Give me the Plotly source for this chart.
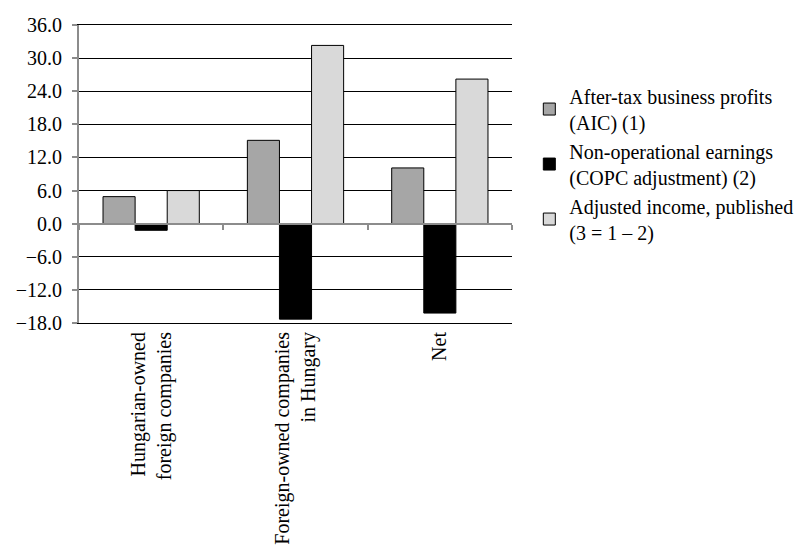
import plotly.graph_objects as go

categories = ["Hungarian-owned<br>foreign companies", "Foreign-owned companies<br>in Hungary", "Net"]
series_names = ["After-tax business profits<br>(AIC) (1)",
                "Non-operational earnings<br>(COPC adjustment) (2)",
                "Adjusted income, published<br>(3 = 1 \u2013 2)"]
after_tax = [4.9, 15.1, 10.1]
non_oper = [-1.2, -17.3, -16.2]
adjusted = [6.0, 32.3, 26.2]
colors = ["#A6A6A6", "#000000", "#D9D9D9"]
y_ticks = [-18, -12, -6, 0, 6, 12, 18, 24, 30, 36]

FONT = "Liberation Serif"
FS = 20

fig = go.Figure()
for i, (name, vals) in enumerate(zip(series_names, [after_tax, non_oper, adjusted])):
    fig.add_trace(go.Bar(
        x=categories, y=vals, name=name,
        marker=dict(color=colors[i], line=dict(color="#000000", width=1)),
        legendgroup=f"g{i}",
    ))

# secondary x axis used only to draw the grey zero line with boundary ticks
fig.add_trace(go.Scatter(x=[0.5, 3.5], y=[0, 0], xaxis="x2", mode="lines",
                         line=dict(color="rgba(0,0,0,0)"), showlegend=False, hoverinfo="skip"))

fig.update_layout(
    width=811, height=560,
    margin=dict(l=71, r=307, t=17, b=245, autoexpand=False),
    paper_bgcolor="white", plot_bgcolor="white",
    font=dict(family=FONT, size=FS, color="black"),
    barmode="group", bargap=0.333, bargroupgap=0,
    showlegend=True,
    legend=dict(x=1.04, y=0.827, xanchor="left", yanchor="top",
                font=dict(family=FONT, size=FS), tracegroupgap=0,
                itemwidth=30, bgcolor="rgba(0,0,0,0)"),
    xaxis=dict(showgrid=False, showline=True, linecolor="black", linewidth=1, mirror=True,
               ticks="", tickangle=-90, tickfont=dict(family=FONT, size=FS), zeroline=False,
               automargin=False),
    xaxis2=dict(overlaying="x", anchor="free", position=1/3, range=[0.5, 3.5],
                showline=True, linecolor="#8C8C8C", linewidth=2,
                tickvals=[0.5, 1.5, 2.5, 3.5], ticks="outside", ticklen=5, tickwidth=2,
                tickcolor="#8C8C8C", showticklabels=False, showgrid=False, zeroline=False,
                automargin=False),
    yaxis=dict(range=[-18, 36], tickvals=y_ticks, tickformat=".1f",
               showgrid=True, gridcolor="black", gridwidth=1,
               showline=True, linecolor="#8C8C8C", linewidth=2,
               ticks="outside", ticklen=5, tickwidth=2, tickcolor="#8C8C8C",
               ticklabelstandoff=6,
               zeroline=False, tickfont=dict(family=FONT, size=FS), automargin=False),
)

fig.write_html("out.html")
